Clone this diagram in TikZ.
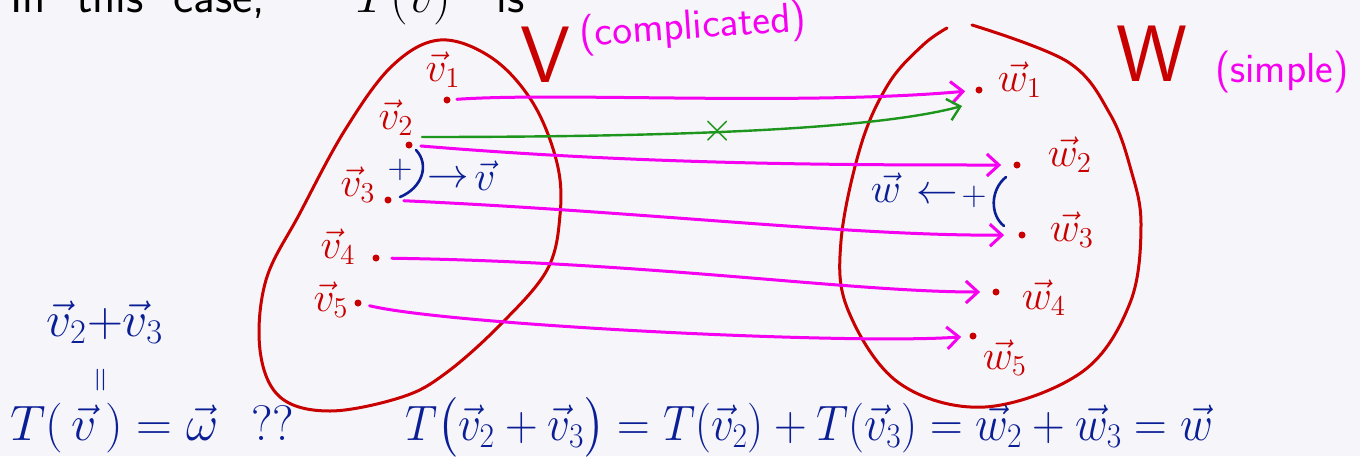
\documentclass[tikz,border=0pt]{standalone}
\usepackage{amsmath}
\usetikzlibrary{arrows.meta}
\definecolor{bg}{RGB}{246,245,249}
\definecolor{pred}{RGB}{200,0,0}
\definecolor{pmag}{RGB}{245,0,240}
\definecolor{pblue}{RGB}{10,30,150}
\definecolor{pgreen}{RGB}{30,150,30}
\begin{document}
\begin{tikzpicture}[x=0.5pt,y=-0.5pt,
  setline/.style={pred, line width=1.5pt, line cap=round, line join=round},
  maparrow/.style={pmag, line width=1.5pt, line cap=round, -{Straight Barb[length=6pt,width=11pt,line width=1.5pt]}},
  greenarrow/.style={pgreen, line width=1.2pt, line cap=round, -{Straight Barb[length=6pt,width=11pt,line width=1.2pt]}},
  pt/.style={circle, fill=pred, inner sep=0pt, minimum size=3.5pt},
  vlab/.style={pred, inner sep=0pt, font=\fontsize{21}{24}\selectfont},
  bluetxt/.style={pblue, inner sep=0pt},
  magtxt/.style={pmag, inner sep=0pt, font=\sffamily\fontsize{21}{24}\selectfont},
  bluearc/.style={pblue, line width=1.3pt, line cap=round}]
\fill[bg] (0,0) rectangle (1360,456);
\useasboundingbox (0,0) rectangle (1360,456);
\begin{scope}
\clip (0,0) rectangle (1360,456);
% top text (cut off at the top edge)
\node[anchor=base west, inner sep=0pt, font=\sffamily\fontsize{24}{24}\selectfont] (top) at (10,12) {In\ \ this\ \ case,\ \ \ \ \ \ $T(\vec v)$\ \ \ is};
% sets
\draw[setline] plot[smooth cycle, tension=0.6] coordinates {(440,40) (492,58) (533,103) (557,163) (560,215) (547,270) (500,325) (446,373) (402,397) (330,411) (280,397) (260,350) (266,280) (300,213) (345,130) (392,66)};
\draw[setline] plot[smooth, tension=0.6] coordinates {(972,25) (1068,62) (1110,114) (1131,170) (1141,225) (1130,303) (1082,372) (985,407) (899,383) (848,310) (841,241) (861,145) (889,83) (923,45) (947,28)};
\node[pred, inner sep=0pt, font=\sffamily\fontsize{40}{40}\selectfont] (V) at (545,55) {V};
\node[pred, inner sep=0pt, font=\sffamily\fontsize{40}{40}\selectfont] (W) at (1152,54) {W};
\node[magtxt, rotate=4] (comp) at (693,28) {(complicated)};
\node[magtxt] (simp) at (1282,72) {(simple)};
% points of V
\node[pt] (v1) at (447,100) {};
\node[pt] (v2) at (409,145) {};
\node[pt] (v3) at (388,200) {};
\node[pt] (v4) at (376,258) {};
\node[pt] (v5) at (358,303) {};
\node[vlab] (lv1) at (443,70) {$\vec v_{1}$};
\node[vlab] (lv2) at (396,118) {$\vec v_{2}$};
\node[vlab] (lv3) at (358,185) {$\vec v_{3}$};
\node[vlab] (lv4) at (338,247) {$\vec v_{4}$};
\node[vlab] (lv5) at (331,300) {$\vec v_{5}$};
% points of W
\node[pt] (w1) at (979,90) {};
\node[pt] (w2) at (1017,165) {};
\node[pt] (w3) at (1022,235) {};
\node[pt] (w4) at (996,292) {};
\node[pt] (w5) at (973,336) {};
\node[vlab] (lw1) at (1020,80) {$\vec w_{1}$};
\node[vlab] (lw2) at (1070,155) {$\vec w_{2}$};
\node[vlab] (lw3) at (1072,230) {$\vec w_{3}$};
\node[vlab] (lw4) at (1044,298) {$\vec w_{4}$};
\node[vlab] (lw5) at (1005,358) {$\vec w_{5}$};
\coordinate (g1) at (962,106);
% maps
\draw[maparrow, shorten <=3pt, shorten >=5pt] (v1) .. controls (560,92) and (800,106) .. (w1);
\draw[greenarrow] ([shift={(13,-8)}]v2.center) .. controls (700,137) and (880,128) .. (g1);
\node[pgreen, inner sep=0pt, font=\fontsize{22}{22}\selectfont] (cross) at (718,131) {$\times$};
\draw[maparrow, shorten <=4pt, shorten >=6pt] (v2) .. controls (650,165) and (850,165) .. (w2);
\draw[maparrow, shorten <=6pt, shorten >=7pt] (v3) .. controls (650,212) and (850,236) .. (w3);
\draw[maparrow, shorten <=6pt, shorten >=6pt] (v4) .. controls (650,262) and (850,292) .. (w4);
\draw[maparrow, shorten <=4pt, shorten >=4pt] (v5) .. controls (450,325) and (850,345) .. (w5);
% blue annotations in V
\draw[bluearc] (416,150) .. controls (430,165) and (422,188) .. (400,197);
\node[bluetxt, font=\fontsize{17}{17}\selectfont] (plusv) at (400,170) {$+$};
\node[bluetxt, font=\fontsize{20}{20}\selectfont] (arrv) at (448,180) {$\rightarrow$};
\node[bluetxt, font=\fontsize{22}{22}\selectfont] (vv) at (485,176) {$\vec v$};
% blue annotations in W
\draw[bluearc] (1006,177) .. controls (990,190) and (990,215) .. (1004,226);
\node[bluetxt, font=\fontsize{17}{17}\selectfont] (plusw) at (974,197) {$+$};
\node[bluetxt, font=\fontsize{20}{20}\selectfont] (arrw) at (937,196) {$\leftarrow$};
\node[bluetxt, font=\fontsize{22}{22}\selectfont] (ww) at (886,188) {$\vec w$};
% bottom equations
\node[bluetxt, font=\fontsize{24}{24}\selectfont] (sum) at (105,322) {$\vec v_{2}{+}\vec v_{3}$};
\node[bluetxt, rotate=90, font=\fontsize{18}{18}\selectfont] (eqv) at (103,380) {$=$};
\node[bluetxt, font=\fontsize{27}{30}\selectfont, anchor=base west] (eq1) at (10,440) {$T(\,\vec v\,) = \vec\omega\ \ ??$};
\node[bluetxt, font=\fontsize{26}{30}\selectfont, anchor=base west, xscale=0.91] (eq2) at (405,440) {$T\bigl(\vec v_{2}+\vec v_{3}\bigr) = T(\vec v_{2}) + T(\vec v_{3}) = \vec w_{2}+\vec w_{3} = \vec w$};
\end{scope}
\end{tikzpicture}
\end{document}
